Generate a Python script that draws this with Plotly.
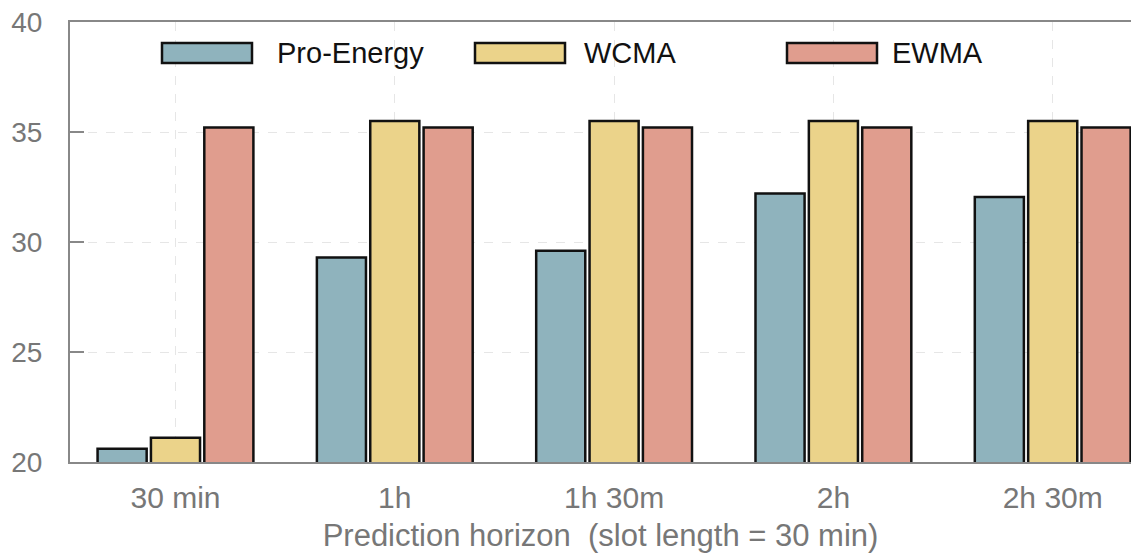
import plotly.graph_objects as go

categories = ["30 min", "1h", "1h 30m", "2h", "2h 30m"]
pro_energy = [20.6, 29.3, 29.6, 32.2, 32.05]
wcma = [21.1, 35.5, 35.5, 35.5, 35.5]
ewma = [35.2, 35.2, 35.2, 35.2, 35.2]
series_names = ["Pro-Energy", "WCMA", "EWMA"]
series_values = [pro_energy, wcma, ewma]
colors = ["#8fb3bd", "#ebd38a", "#e09d8e"]

W, H = 1131, 553
ML, MR, MT, MB = 70, 0, 22, 91
PW = W - ML - MR
PH = H - MT - MB

fig = go.Figure()
for name, vals, col in zip(series_names, series_values, colors):
    fig.add_trace(go.Bar(
        x=categories, y=vals, name=name,
        marker=dict(color=col, line=dict(color="#111111", width=2.5)),
        showlegend=False,
    ))

def px_x(p):
    return (p - ML) / PW

def px_y(p):
    return (H - MB - p) / PH

# custom legend with wide swatches
legend_items = [(162, 275), (475, 582), (787, 890)]
shapes = []
annotations = []
for (sx, tx), name, col in zip(legend_items, series_names, colors):
    shapes.append(dict(type="rect", xref="paper", yref="paper",
                       x0=px_x(sx), x1=px_x(sx + 90), y0=px_y(63), y1=px_y(43),
                       fillcolor=col, line=dict(color="#111111", width=2.5)))
    annotations.append(dict(xref="paper", yref="paper", x=px_x(tx), y=px_y(53),
                            xanchor="left", yanchor="middle", showarrow=False,
                            text=name, font=dict(family="Liberation Sans", size=29, color="#111111")))

fig.update_layout(
    width=W, height=H,
    margin=dict(l=ML, r=MR, t=MT, b=MB, pad=0),
    paper_bgcolor="white", plot_bgcolor="white",
    barmode="group", bargap=0.27, bargroupgap=0.08,
    shapes=shapes, annotations=annotations,
    font=dict(family="Liberation Sans", color="#777777"),
    xaxis=dict(
        range=[-0.481, 4.357],
        showline=True, linecolor="#888888", linewidth=2, mirror=True,
        showgrid=True, gridcolor="#e6e6e6", griddash="dash", gridwidth=1,
        ticks="", tickfont=dict(size=30, color="#777777"),
        ticklabelstandoff=8,
        title=dict(text="Prediction horizon  (slot length = 30 min)",
                   font=dict(size=31, color="#777777"), standoff=13),
    ),
    yaxis=dict(
        range=[20, 40], tickvals=[20, 25, 30, 35, 40],
        showline=True, linecolor="#888888", linewidth=2,
        showgrid=True, gridcolor="#e6e6e6", griddash="dash", gridwidth=1,
        ticks="inside", ticklen=14, tickwidth=2, tickcolor="#888888",
        tickfont=dict(size=28, color="#777777"), ticklabelstandoff=20,
        zeroline=False,
    ),
)

fig.write_html("out.html")
